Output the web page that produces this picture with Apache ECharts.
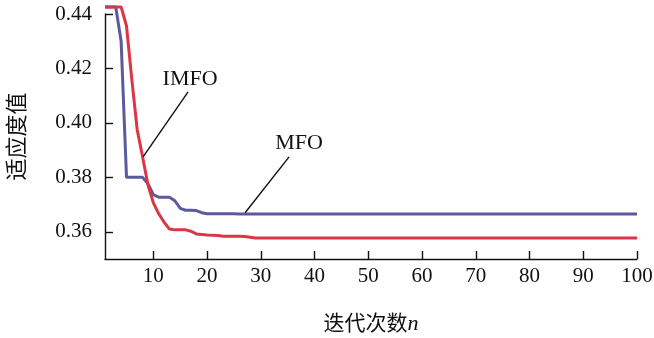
<!DOCTYPE html>
<html>
<head>
<meta charset="utf-8">
<script src="https://cdn.jsdelivr.net/npm/echarts@6/dist/echarts.min.js"></script>
<style>
  html, body { margin: 0; padding: 0; background: #fff; }
  #chart { width: 654px; height: 338px; }
</style>
</head>
<body>
<div id="chart"></div>
<script>
// Iteration numbers 1..100
const iterations = Array.from({ length: 100 }, (_, i) => i + 1);

// Best fitness per iteration, first 30 iterations (then constant)
const mfoHead = [
  0.4426, 0.4426, 0.4426, 0.4300, 0.3800, 0.3800, 0.3800, 0.3800, 0.3776, 0.3736,
  0.3727, 0.3727, 0.3727, 0.3714, 0.3686, 0.3679, 0.3679, 0.3678, 0.3670, 0.3666,
  0.3666, 0.3666, 0.3666, 0.3666, 0.3666, 0.3665, 0.3665, 0.3665, 0.3665, 0.3665
];
const mfoTail = 0.3665;

const imfoHead = [
  0.4426, 0.4426, 0.4426, 0.4426, 0.4356, 0.4158, 0.3974, 0.3875, 0.3772, 0.3706,
  0.3666, 0.3635, 0.3610, 0.3607, 0.3607, 0.3607, 0.3602, 0.3592, 0.3590, 0.3588,
  0.3587, 0.3586, 0.3584, 0.3584, 0.3584, 0.3584, 0.3583, 0.3580, 0.3577, 0.3577
];
const imfoTail = 0.3577;

const yTicks = [0.36, 0.38, 0.40, 0.42, 0.44];
const xTicks = [10, 20, 30, 40, 50, 60, 70, 80, 90, 100];

// Leader lines and their labels, in data coordinates
const imfoLeader = [[16.46, 0.4114], [8.08, 0.3875]];
const imfoLabelAt = [16.83, 0.4162];
const mfoLeader = [[35.26, 0.3875], [27.07, 0.3670]];
const mfoLabelAt = [37.13, 0.3925];

const mfo = iterations.map((n, i) => [n, i < mfoHead.length ? mfoHead[i] : mfoTail]);
const imfo = iterations.map((n, i) => [n, i < imfoHead.length ? imfoHead[i] : imfoTail]);

const serif = '"Liberation Serif", "Times New Roman", "Noto Sans CJK SC", serif';

function leader(pts, label, at) {
  return {
    markLine: {
      silent: true,
      symbol: 'none',
      animation: false,
      label: { show: false },
      lineStyle: { color: '#111', width: 1.4, type: 'solid' },
      emphasis: { disabled: true },
      data: [[{ coord: pts[0] }, { coord: pts[1] }]]
    },
    markPoint: {
      silent: true,
      animation: false,
      symbol: 'circle',
      symbolSize: 0,
      data: [{ coord: at, value: label }],
      label: {
        show: true, position: 'inside', formatter: label,
        color: '#111', fontFamily: serif, fontSize: 22
      }
    }
  };
}

const chart = echarts.init(document.getElementById('chart'), null, { renderer: 'canvas' });
chart.setOption({
  animation: false,
  backgroundColor: '#fff',
  grid: { left: 105, right: 17, top: 14, bottom: 79, outerBoundsMode: 'none', containLabel: false },
  xAxis: {
    type: 'value', min: 1, max: 100,
    name: '迭代次数{i|n}',
    nameLocation: 'middle', nameGap: 54,
    nameTextStyle: {
      color: '#111', fontSize: 21, fontFamily: serif,
      rich: { i: { fontStyle: 'italic', fontSize: 22, fontFamily: serif, color: '#111' } }
    },
    axisLine: { show: true, lineStyle: { color: '#111', width: 1.4 } },
    axisTick: { show: true, inside: true, length: 8, customValues: xTicks, lineStyle: { color: '#111', width: 1.4 } },
    axisLabel: { customValues: xTicks, color: '#111', fontSize: 21, fontFamily: serif, margin: 7 },
    splitLine: { show: false }
  },
  yAxis: {
    type: 'value', min: 0.35, max: 0.44,
    name: '适应度值',
    nameLocation: 'middle', nameGap: 76, nameRotate: 90,
    nameTextStyle: { color: '#111', fontSize: 22, fontFamily: serif },
    axisLine: { show: true, lineStyle: { color: '#111', width: 1.4 } },
    axisTick: { show: true, inside: true, length: 8, customValues: yTicks, lineStyle: { color: '#111', width: 1.4 } },
    axisLabel: {
      customValues: yTicks, color: '#111', fontSize: 21, fontFamily: serif, margin: 13,
      formatter: v => v.toFixed(2)
    },
    splitLine: { show: false }
  },
  series: [
    Object.assign({
      name: 'MFO', type: 'line', data: mfo, showSymbol: false, clip: false,
      lineStyle: { color: '#5b5a9f', width: 3 }, itemStyle: { color: '#5b5a9f' }
    }, leader(mfoLeader, 'MFO', mfoLabelAt)),
    Object.assign({
      name: 'IMFO', type: 'line', data: imfo, showSymbol: false, clip: false,
      lineStyle: { color: '#dc3545', width: 3 }, itemStyle: { color: '#dc3545' }
    }, leader(imfoLeader, 'IMFO', imfoLabelAt))
  ]
});
</script>
</body>
</html>
